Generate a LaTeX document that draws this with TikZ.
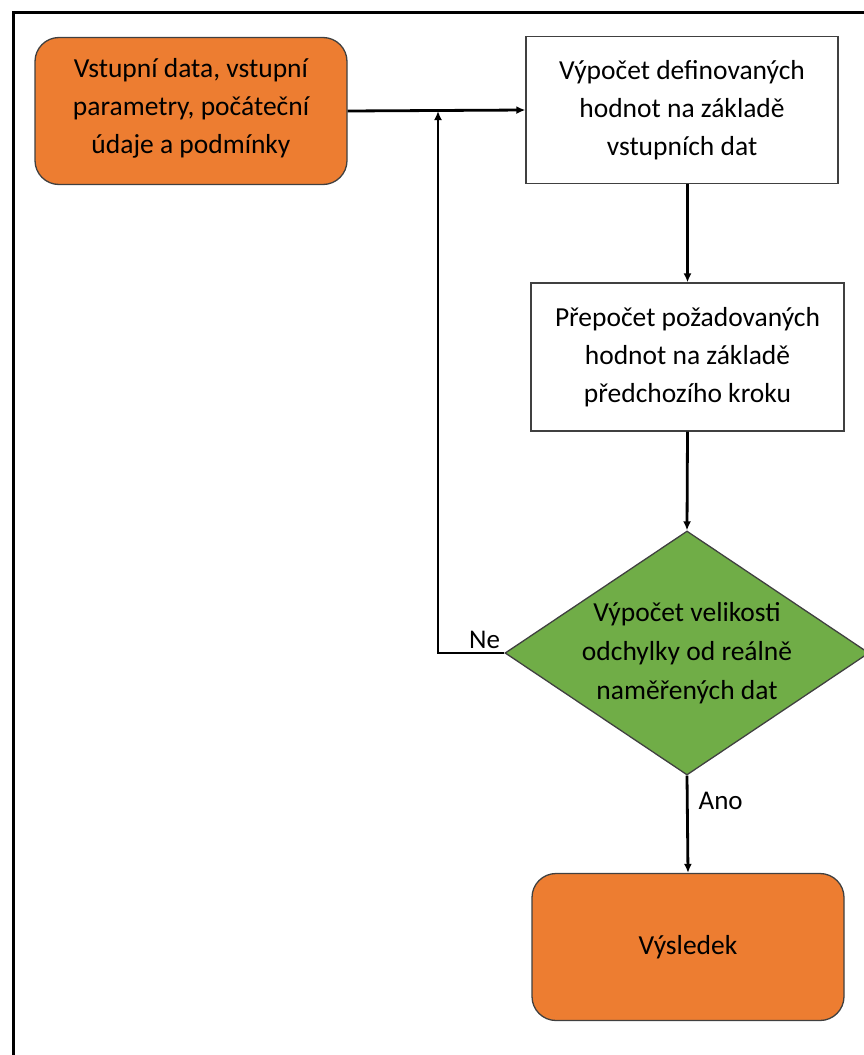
\documentclass[tikz,border=0pt]{standalone}
\usepackage{fontspec}
\setmainfont{Carlito}
\usepackage{xcolor}
\usepackage{tikz}
\usetikzlibrary{arrows.meta,shapes.geometric,calc}
\definecolor{terminal}{RGB}{237,125,49}
\definecolor{decision}{RGB}{112,173,71}
\definecolor{outline}{RGB}{64,64,64}

\begin{document}
\begin{tikzpicture}[
  x=1pt, y=-1pt,
  box/.style={draw=outline, line width=1.3pt, fill=white, align=center,
    minimum width=312pt, minimum height=147pt, inner sep=0pt,
    font=\fontsize{27.5}{38}\selectfont},
  terminalbox/.style={box, fill=terminal, rounded corners=24pt},
  decisionbox/.style={diamond, draw=outline, line width=1.3pt, fill=decision,
    align=center, aspect=1.5, inner sep=0pt, minimum width=364pt,
    minimum height=244pt, font=\fontsize{27.5}{39}\selectfont},
  flow/.style={-{Latex[length=9pt,width=8pt]}, line width=2.8pt, draw=black},
  label/.style={font=\fontsize{27}{30}\selectfont, inner sep=3pt}
]
\useasboundingbox (0,0) rectangle (864,1055);

% Frame.
\draw[line width=3pt] (13,1060) -- (13,12) -- (870,12);

% Start and end.
\node[terminalbox] (input) at (191,111) {
  Vstupní data, vstupní\\
  parametry, počáteční\\
  údaje a podmínky\\[-28pt]
};

\node[terminalbox] (result) at (688,947) {Výsledek};

% Steps.
\node[box] (defin) at (682,110) {
  Výpočet definovaných\\
  hodnot na základě\\
  vstupních dat
};

\node[box, minimum width=313pt, minimum height=148pt] (recalc) at (687.5,357) {
  Přepočet požadovaných\\
  hodnot na základě\\
  předchozího kroku
};

\node[decisionbox] (check) at (687,653) {
  Výpočet velikosti\\
  odchylky od reálně\\
  naměřených dat
};

% Loop back joins the input line.
\coordinate (join) at (438,111);

\draw[flow] (input.east) -- (defin.west);
\draw[flow] (recalc.north |- defin.south) -- (recalc.north);
\draw[flow] (recalc.south) -- (check.north);
\draw[flow] (check.west) -- node[label, pos=0, above left] {Ne} (join |- check.west) -- (join);
\draw[flow] (check.south) -- node[label, pos=0.26, right, xshift=7pt] {Ano} (result.north);

\end{tikzpicture}
\end{document}
